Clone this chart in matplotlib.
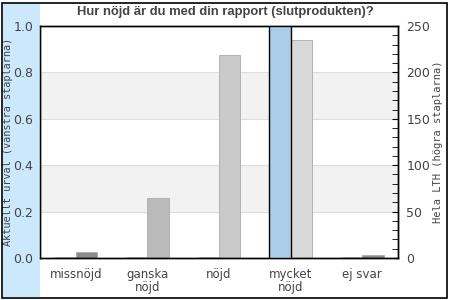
import matplotlib
matplotlib.use("Agg")
import matplotlib.pyplot as plt
from matplotlib.patches import Rectangle
import numpy as np

categories = ["missnöjd", "ganska\nnöjd", "nöjd", "mycket\nnöjd", "ej svar"]
current = [0.0, 0.0, 0.0, 1.0, 0.0]          # left axis (Aktuellt urval)
lth = [6, 65, 219, 235, 3]                    # right axis (Hela LTH)
lth_colors = ["#8c8c8c", "#bababa", "#cacaca", "#d8d8d8", "#8c8c8c"]
title = "Hur nöjd är du med din rapport (slutprodukten)?"

plt.rcParams["ytick.direction"] = "in"

fig = plt.figure(figsize=(4.5, 3), dpi=100)
fig.patches.append(Rectangle((3/450, 3/300), 37/450, 294/300, transform=fig.transFigure,
                             facecolor="#cce8fc", edgecolor="none", zorder=0))
fig.patches.append(Rectangle((2/450, 2/300), 445/450, 295/300, transform=fig.transFigure,
                             facecolor="none", edgecolor="black", linewidth=1.2, zorder=5))

ax = fig.add_axes([40/450, 42/300, 358/450, 232/300])
ax2 = ax.twinx()
ax.set_zorder(ax2.get_zorder() + 1)
ax.patch.set_visible(False)

x = np.arange(len(categories))
w = 0.3
for lo in (0.2, 0.6):
    ax2.axhspan(lo*250, (lo+0.2)*250, color="#f2f2f2", zorder=0, lw=0)
for g in (0.2, 0.4, 0.6, 0.8):
    ax2.axhline(g*250, color="#dddddd", lw=0.8, zorder=0.5)

ax2.bar(x + w/2, lth, width=w, color=lth_colors, edgecolor="#aaaaaa", linewidth=0.6, zorder=2)
ax.bar(x - w/2, current, width=w, color="#abcde8", edgecolor="black", linewidth=1.0, zorder=3)

ax.set_xlim(-0.5, len(categories) - 0.5)
ax.set_ylim(0, 1)
ax2.set_ylim(0, 250)
ax.set_xticks(x)
ax.set_xticklabels(categories, fontsize=8.5, color="#444444", linespacing=1.05)
ax.tick_params(axis="x", length=0, pad=7)
ax.set_yticks(np.arange(0, 1.01, 0.2))
ax.set_yticklabels([f"{v:.1f}" for v in np.arange(0, 1.01, 0.2)], fontsize=9, color="#444444")
ax.tick_params(axis="y", length=0, pad=5)
ax2.set_yticks(np.arange(0, 251, 50))
ax2.set_yticks(np.arange(0, 251, 10), minor=True)
ax2.yaxis.set_tick_params(which="major", direction="in", length=4, labelsize=9,
                          labelcolor="#444444", pad=6)
ax2.yaxis.set_tick_params(which="minor", direction="in", length=4)

ax.set_ylabel("Aktuellt urval (vänstra staplarna)", family="DejaVu Sans Mono", fontsize=7.4,
              color="#444444")
ax.yaxis.set_label_coords(-0.0754, 0.5)
ax2.set_ylabel("Hela LTH (högra staplarna)", family="DejaVu Sans Mono", fontsize=7.5,
               color="#444444")
ax2.yaxis.set_label_coords(1.098, 0.5)
for a in (ax, ax2):
    for s in a.spines.values():
        s.set_linewidth(1.0)
        s.set_color("black")

fig.text(225 / 450, 1 - 12/300, title, ha="center", va="center",
         fontsize=9.4, fontweight="bold", color="#444444", family="Liberation Sans")

fig.savefig("out.png", dpi=100)
